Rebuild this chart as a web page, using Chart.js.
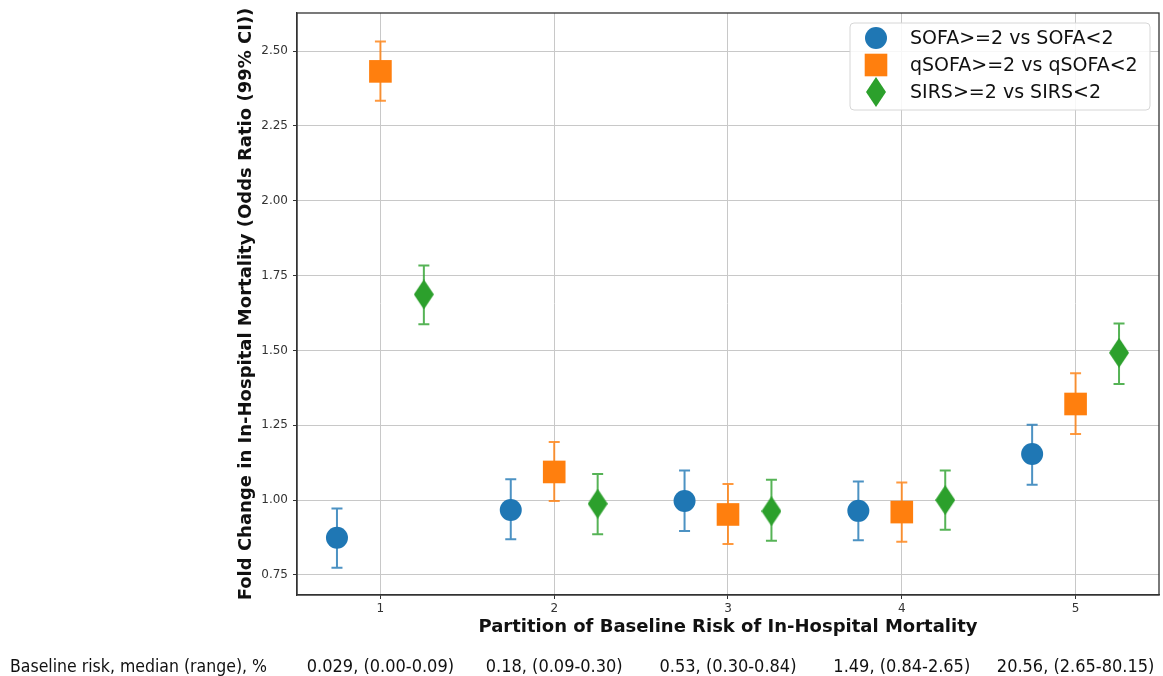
<!DOCTYPE html>
<html>
<head>
<meta charset="utf-8">
<script src="https://cdn.jsdelivr.net/npm/chart.js@4.4.1/dist/chart.umd.min.js"></script>
<style>
  html, body { margin: 0; padding: 0; background: #fff; }
  #wrap { width: 1163px; height: 676px; position: relative; }
</style>
</head>
<body>
<div id="wrap"><canvas id="orChart" width="1163" height="676"></canvas></div>
<script>
// partitions of baseline risk (x categories)
const partitions = [1, 2, 3, 4, 5];
const baselineRisk = ['0.029, (0.00-0.09)', '0.18, (0.09-0.30)', '0.53, (0.30-0.84)', '1.49, (0.84-2.65)', '20.56, (2.65-80.15)'];

// odds ratios with 99% CI
const sofaOR = [0.874, 0.967, 0.997, 0.964, 1.154];
const sofaLo = [0.774, 0.869, 0.897, 0.866, 1.051];
const sofaHi = [0.972, 1.070, 1.099, 1.062, 1.252];

const qsofaOR = [2.432, 1.094, 0.952, 0.960, 1.321];
const qsofaLo = [2.334, 0.997, 0.853, 0.861, 1.221];
const qsofaHi = [2.532, 1.194, 1.054, 1.059, 1.424];

const sirsOR = [1.687, 0.988, 0.963, 1.000, 1.492];
const sirsLo = [1.587, 0.886, 0.864, 0.901, 1.388];
const sirsHi = [1.784, 1.087, 1.068, 1.099, 1.590];

const yTicks = [0.75, 1.00, 1.25, 1.50, 1.75, 2.00, 2.25, 2.50];

const BLUE = '#1f77b4', ORANGE = '#ff7f0e', GREEN = '#2ca02c';

// thin diamond marker (matplotlib 'd')
function makeDiamond(color) {
    const c = document.createElement('canvas');
    c.width = 20; c.height = 30;
    const g = c.getContext('2d');
    g.fillStyle = color;
    g.beginPath();
    g.moveTo(10, 0); g.lineTo(20, 15); g.lineTo(10, 30); g.lineTo(0, 15);
    g.closePath();
    g.fill();
    return c;
}
const diamond = makeDiamond(GREEN);

function pts(vals, shift) {
    return partitions.map((p, i) => ({ x: p + shift, y: vals[i] }));
}

const series = [
    { label: 'SOFA>=2 vs SOFA<2', color: BLUE, shift: -0.25, or: sofaOR, lo: sofaLo, hi: sofaHi, style: 'circle', radius: 11 },
    { label: 'qSOFA>=2 vs qSOFA<2', color: ORANGE, shift: 0, or: qsofaOR, lo: qsofaLo, hi: qsofaHi, style: 'rect', radius: 16 },
    { label: 'SIRS>=2 vs SIRS<2', color: GREEN, shift: 0.25, or: sirsOR, lo: sirsLo, hi: sirsHi, style: diamond, radius: 15 }
];

const errorBars = {
    id: 'errorBars',
    beforeDatasetsDraw(chart) {
        const ctx = chart.ctx, xs = chart.scales.x, ys = chart.scales.y;
        ctx.save();
        series.forEach(s => {
            ctx.strokeStyle = s.color;
            ctx.globalAlpha = 0.8;
            ctx.lineWidth = 2;
            partitions.forEach((p, i) => {
                const x = xs.getPixelForValue(p + s.shift);
                const y1 = ys.getPixelForValue(s.lo[i]);
                const y2 = ys.getPixelForValue(s.hi[i]);
                ctx.beginPath();
                ctx.moveTo(x, y1); ctx.lineTo(x, y2);
                ctx.moveTo(x - 5.5, y1); ctx.lineTo(x + 5.5, y1);
                ctx.moveTo(x - 5.5, y2); ctx.lineTo(x + 5.5, y2);
                ctx.stroke();
            });
        });
        ctx.restore();
    }
};

const frameAndLegend = {
    id: 'frameAndLegend',
    afterDraw(chart) {
        const ctx = chart.ctx, a = chart.chartArea, xs = chart.scales.x;
        ctx.save();
        // full box like matplotlib spines
        ctx.strokeStyle = '#333';
        ctx.lineWidth = 1.3;
        ctx.strokeRect(a.left, a.top, a.right - a.left, a.bottom - a.top);

        // legend, upper right
        const lx = 850, ly = 23, lw = 300, lh = 87;
        ctx.fillStyle = 'rgba(255,255,255,0.85)';
        ctx.strokeStyle = '#d6d6d6';
        ctx.lineWidth = 1;
        ctx.beginPath();
        ctx.roundRect(lx, ly, lw, lh, 4);
        ctx.fill(); ctx.stroke();
        ctx.font = '19px "DejaVu Sans"';
        ctx.textBaseline = 'middle';
        ctx.textAlign = 'left';
        series.forEach((s, i) => {
            const cy = 38 + i * 27, cx = 876;
            ctx.fillStyle = s.color;
            if (s.style === 'circle') {
                ctx.beginPath(); ctx.arc(cx, cy, 11, 0, Math.PI * 2); ctx.fill();
            } else if (s.style === 'rect') {
                ctx.fillRect(cx - 11.3, cy - 11.3, 22.6, 22.6);
            } else {
                ctx.drawImage(s.style, cx - 10, cy - 15);
            }
            ctx.fillStyle = '#111';
            ctx.fillText(s.label, 910, cy + 1);
        });

        // baseline risk row under the x axis
        ctx.fillStyle = '#111';
        ctx.textAlign = 'left';
        ctx.font = '17.5px "DejaVu Sans Condensed", "DejaVu Sans"';
        ctx.fillText('Baseline risk, median (range), %', 10, 667);
        ctx.textAlign = 'center';
        ctx.font = '18px "DejaVu Sans Condensed", "DejaVu Sans"';
        partitions.forEach((p, i) => {
            ctx.fillText(baselineRisk[i], xs.getPixelForValue(p), 667);
        });
        ctx.restore();
    }
};

new Chart(document.getElementById('orChart'), {
    type: 'scatter',
    data: {
        datasets: series.map(s => ({
            label: s.label,
            data: pts(s.or, s.shift),
            backgroundColor: s.color,
            borderColor: s.color,
            borderWidth: 0,
            pointStyle: s.style,
            pointRadius: s.radius,
            pointHoverRadius: s.radius
        }))
    },
    options: {
        responsive: false,
        animation: false,
        events: [],
        layout: { autoPadding: false, padding: { left: 0, top: 13, right: 4, bottom: 0 } },
        plugins: { legend: { display: false }, tooltip: { enabled: false } },
        scales: {
            x: {
                type: 'linear',
                min: 0.52, max: 5.48,
                afterBuildTicks: ax => { ax.ticks = partitions.map(v => ({ value: v })); },
                afterFit: ax => { ax.height = 81; ax.paddingLeft = 0; ax.paddingRight = 0; },
                ticks: { color: '#333', font: { family: 'DejaVu Sans', size: 12 }, padding: 3, callback: v => String(v) },
                grid: { color: '#c8c8c8', lineWidth: 1, tickLength: 4, tickColor: '#333' },
                border: { color: '#333', width: 1.3 },
                title: {
                    display: true,
                    text: 'Partition of Baseline Risk of In-Hospital Mortality',
                    color: '#111',
                    font: { family: 'DejaVu Sans', size: 18, weight: 'bold' },
                    padding: { top: 0, bottom: 38 }
                }
            },
            y: {
                type: 'linear',
                min: 0.683, max: 2.627,
                afterBuildTicks: ax => { ax.ticks = yTicks.map(v => ({ value: v })); },
                afterFit: ax => { ax.width = 297; ax.paddingTop = 0; ax.paddingBottom = 0; },
                ticks: { color: '#333', font: { family: 'DejaVu Sans', size: 12 }, padding: 5, callback: v => v.toFixed(2) },
                grid: { color: '#c8c8c8', lineWidth: 1, tickLength: 4, tickColor: '#333' },
                border: { color: '#333', width: 1.3 },
                title: {
                    display: true,
                    text: 'Fold Change in In-Hospital Mortality (Odds Ratio (99% CI))',
                    color: '#111',
                    font: { family: 'DejaVu Sans', size: 18, weight: 'bold' },
                    padding: { top: 236, bottom: 0 }
                }
            }
        }
    },
    plugins: [errorBars, frameAndLegend]
});
</script>
</body>
</html>
